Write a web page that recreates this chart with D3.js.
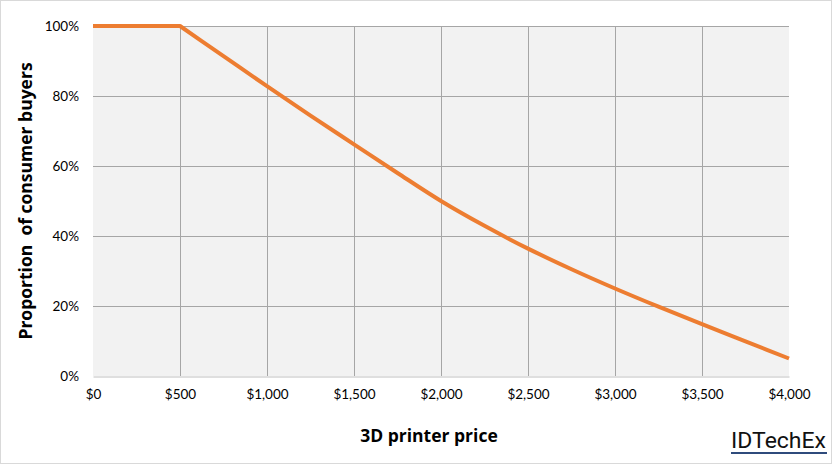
<!DOCTYPE html>
<html>
<head>
<meta charset="utf-8">
<script src="https://cdn.jsdelivr.net/npm/d3@7/dist/d3.min.js"></script>
<style>
  html, body { margin: 0; padding: 0; background: #fff; }
  svg { display: block; }
</style>
</head>
<body>
<svg id="chart" width="832" height="464"></svg>
<script>
// ---- data ----
const prices = [0, 250, 500, 750, 1000, 1250, 1500, 1750, 2000, 2250, 2500, 2750, 3000, 3250, 3500, 3750, 4000];
const proportion = [100, 100, 100, 91.4, 82.8, 74.4, 66.2, 58, 50, 42.9, 36.4, 30.5, 25, 19.8, 14.8, 9.9, 5];
const xTicks = [0, 500, 1000, 1500, 2000, 2500, 3000, 3500, 4000];
const yTicks = [0, 20, 40, 60, 80, 100];
const xTitle = "3D printer price";
const yTitle = "Proportion\u00a0 of consumer buyers";
const brand = "IDTechEx";

// ---- layout ----
const W = 832, H = 464;
const plot = { left: 93, right: 789, top: 26, bottom: 376 };
const font = "Lato, 'Open Sans', sans-serif";
const titleFont = "'Open Sans', Lato, sans-serif";

const svg = d3.select("#chart");

// outer border
svg.append("rect").attr("x", 0.5).attr("y", 0.5).attr("width", W - 1).attr("height", H - 1)
  .attr("fill", "#fff").attr("stroke", "#d9d9d9");

const x = d3.scaleLinear().domain([0, 4000]).range([plot.left, plot.right]);
const y = d3.scaleLinear().domain([0, 100]).range([plot.bottom, plot.top]);

// plot background
svg.append("rect").attr("x", plot.left).attr("y", plot.top)
  .attr("width", plot.right - plot.left).attr("height", plot.bottom - plot.top)
  .attr("fill", "#f2f2f2");

// gridlines
const g = svg.append("g");
g.selectAll(".vg").data(xTicks.filter(d => d > 0 && d < 4000)).enter().append("line")
  .attr("x1", d => Math.round(x(d)) + 0.5).attr("x2", d => Math.round(x(d)) + 0.5)
  .attr("y1", plot.top).attr("y2", plot.bottom)
  .attr("stroke", "#a6a6a6").attr("stroke-width", 1);
g.selectAll(".hg").data(yTicks.filter(d => d > 0)).enter().append("line")
  .attr("x1", plot.left).attr("x2", plot.right)
  .attr("y1", d => Math.round(y(d)) + 0.5).attr("y2", d => Math.round(y(d)) + 0.5)
  .attr("stroke", "#a6a6a6").attr("stroke-width", 1);

// axes
const xAxis = d3.axisBottom(x).tickValues(xTicks).tickSize(0).tickPadding(13)
  .tickFormat(d => "$" + d3.format(",")(d));
const xg = svg.append("g").attr("transform", `translate(0,${Math.round(plot.bottom) + 0.5})`).call(xAxis);
xg.select(".domain").attr("stroke", "#bfbfbf");
xg.selectAll("text").attr("font-family", font).attr("font-size", 13.5).attr("fill", "#000");

const yAxis = d3.axisLeft(y).tickValues(yTicks).tickSize(0).tickPadding(14)
  .tickFormat(d => d + "%");
const yg = svg.append("g").attr("transform", `translate(${plot.left},0)`).call(yAxis);
yg.select(".domain").remove();
yg.selectAll("text").attr("font-family", font).attr("font-size", 13.5).attr("fill", "#000");

// line
const pts = prices.map((p, i) => [p, proportion[i]]);
const flat = pts.filter(d => d[0] <= 500);
const curve = pts.filter(d => d[0] >= 500);
const lineLin = d3.line().x(d => x(d[0])).y(d => y(d[1]));
const lineCurve = d3.line().x(d => x(d[0])).y(d => y(d[1])).curve(d3.curveMonotoneX);
svg.append("path").attr("d", lineLin(flat) + lineCurve(curve).replace(/^M[^CL]*/, m => "L" + m.slice(1)))
  .attr("fill", "none").attr("stroke", "#ed7d31").attr("stroke-width", 4)
  .attr("stroke-linejoin", "round");

// titles
svg.append("text").attr("x", 429).attr("y", 442).attr("text-anchor", "middle")
  .attr("font-family", titleFont).attr("font-weight", "bold").attr("font-size", 17.5).attr("fill", "#000")
  .text(xTitle);
svg.append("text").attr("transform", "translate(32,201) rotate(-90)").attr("text-anchor", "middle")
  .attr("font-family", titleFont).attr("font-weight", "bold").attr("font-size", 17.5).attr("fill", "#000")
  .text(yTitle);

// brand
svg.append("text").attr("x", 731).attr("y", 448)
  .attr("font-family", "Roboto, 'Liberation Sans', sans-serif").attr("font-weight", "normal").attr("font-size", 22)
  .attr("textLength", 95).attr("lengthAdjust", "spacingAndGlyphs")
  .attr("fill", "#111").text(brand);
svg.append("rect").attr("x", 731).attr("y", 452).attr("width", 96).attr("height", 2).attr("fill", "#2f4b7c");
</script>
</body>
</html>
